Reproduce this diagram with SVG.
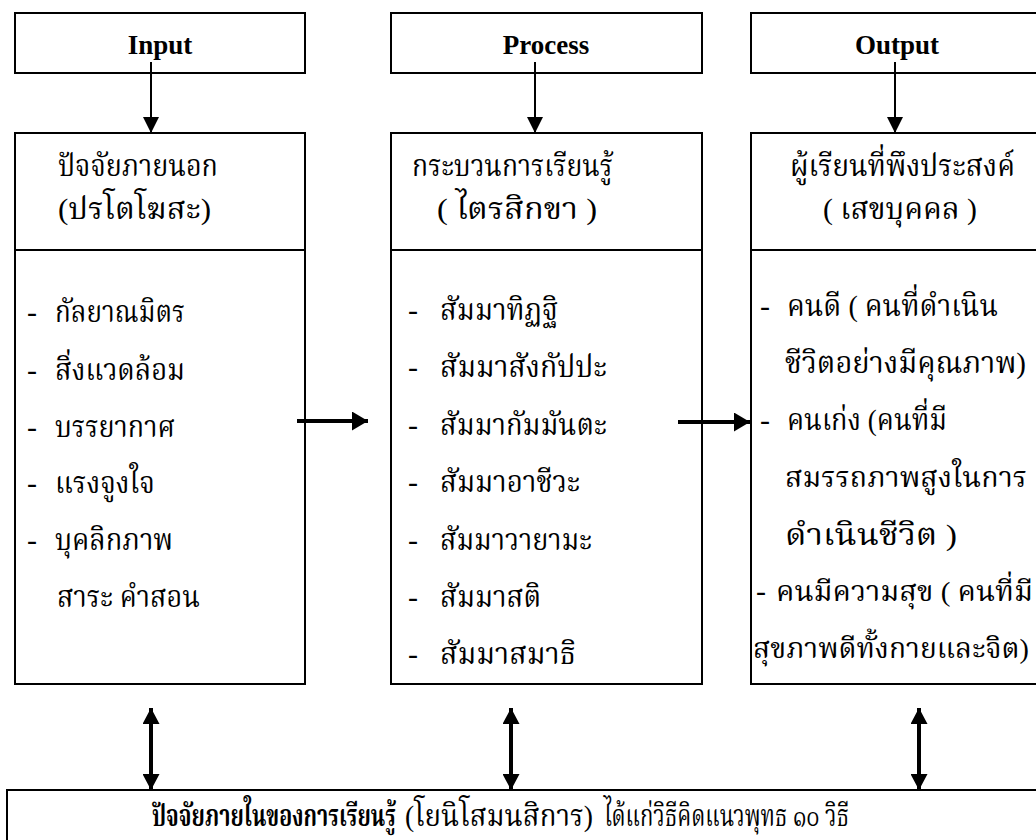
<svg xmlns="http://www.w3.org/2000/svg" width="1036" height="840" viewBox="0 0 1036 840">
<style>
.box{fill:#fff;stroke:#000;stroke-width:2}
.div{stroke:#000;stroke-width:2}
.hdr{font-family:"Liberation Serif","Times New Roman",serif;font-weight:bold;font-size:27px;text-anchor:middle;fill:#000}
.th{font-family:"Liberation Serif","Noto Serif Thai","Noto Sans Thai","DejaVu Serif",serif;font-size:30px;fill:#000}
.sm{font-size:28px}
.b{font-weight:bold}
.thin{stroke:#000;stroke-width:2;fill:none}
.thick{stroke:#000;stroke-width:4;fill:none}
.dbl{stroke:#000;stroke-width:4;fill:none}
</style>
<defs>
<marker id="ah" viewBox="0 0 16 16" refX="16" refY="8" markerWidth="16" markerHeight="16" markerUnits="userSpaceOnUse" orient="auto"><path d="M0,0 L16,8 L0,16 Z" fill="#000"/></marker>
<marker id="ahb" viewBox="0 0 16 19" refX="16" refY="9.5" markerWidth="16" markerHeight="19" markerUnits="userSpaceOnUse" orient="auto"><path d="M0,0 L16,9.5 L0,19 Z" fill="#000"/></marker>
<marker id="ahd" viewBox="0 0 16 17" refX="16" refY="8.5" markerWidth="16" markerHeight="17" markerUnits="userSpaceOnUse" orient="auto-start-reverse"><path d="M0,0 L16,8.5 L0,17 Z" fill="#000"/></marker>
</defs>
<rect width="1036" height="840" fill="#fff"/>

<g id="input-header"><rect class="box" x="15" y="13" width="290" height="60"/><text class="hdr" x="160" y="54">Input</text></g>
<g id="process-header"><rect class="box" x="391" y="13" width="311" height="60"/><text class="hdr" x="546" y="54">Process</text></g>
<g id="output-header"><rect class="box" x="751" y="13" width="293" height="60"/><text class="hdr" x="897" y="54">Output</text></g>

<g id="input-box">
<rect class="box" x="15" y="133" width="290" height="551"/>
<line class="div" x1="15" y1="250" x2="305" y2="250"/>
<text class="th" x="58" y="176" textLength="160" lengthAdjust="spacingAndGlyphs">ปัจจัยภายนอก</text>
<text class="th" x="58" y="219" textLength="153" lengthAdjust="spacingAndGlyphs">(ปรโตโฆสะ)</text>
<text class="th" x="27" y="322">-</text><text class="th" x="55" y="322" textLength="130" lengthAdjust="spacingAndGlyphs">กัลยาณมิตร</text>
<text class="th" x="27" y="380">-</text><text class="th" x="55" y="380" textLength="130" lengthAdjust="spacingAndGlyphs">สิ่งแวดล้อม</text>
<text class="th" x="27" y="437">-</text><text class="th" x="55" y="437" textLength="120" lengthAdjust="spacingAndGlyphs">บรรยากาศ</text>
<text class="th" x="27" y="493">-</text><text class="th" x="55" y="493" textLength="100" lengthAdjust="spacingAndGlyphs">แรงจูงใจ</text>
<text class="th" x="27" y="550">-</text><text class="th" x="55" y="550" textLength="118" lengthAdjust="spacingAndGlyphs">บุคลิกภาพ</text>
<text class="th" x="57" y="607" textLength="143" lengthAdjust="spacingAndGlyphs">สาระ คำสอน</text>
</g>

<g id="process-box">
<rect class="box" x="391" y="133" width="311" height="551"/>
<line class="div" x1="391" y1="250" x2="702" y2="250"/>
<text class="th" x="412" y="176" textLength="201" lengthAdjust="spacingAndGlyphs">กระบวนการเรียนรู้</text>
<text class="th" x="437" y="219" textLength="160" lengthAdjust="spacingAndGlyphs">( ไตรสิกขา )</text>
<text class="th" x="408" y="320">-</text><text class="th" x="440" y="320" textLength="118" lengthAdjust="spacingAndGlyphs">สัมมาทิฏฐิ</text>
<text class="th" x="408" y="377">-</text><text class="th" x="440" y="377" textLength="167" lengthAdjust="spacingAndGlyphs">สัมมาสังกัปปะ</text>
<text class="th" x="408" y="435">-</text><text class="th" x="440" y="435" textLength="167" lengthAdjust="spacingAndGlyphs">สัมมากัมมันตะ</text>
<text class="th" x="408" y="492">-</text><text class="th" x="440" y="492" textLength="140" lengthAdjust="spacingAndGlyphs">สัมมาอาชีวะ</text>
<text class="th" x="408" y="550">-</text><text class="th" x="440" y="550" textLength="152" lengthAdjust="spacingAndGlyphs">สัมมาวายามะ</text>
<text class="th" x="408" y="607">-</text><text class="th" x="440" y="607" textLength="101" lengthAdjust="spacingAndGlyphs">สัมมาสติ</text>
<text class="th" x="408" y="664">-</text><text class="th" x="440" y="664" textLength="136" lengthAdjust="spacingAndGlyphs">สัมมาสมาธิ</text>
</g>

<g id="output-box">
<rect class="box" x="751" y="133" width="293" height="551"/>
<line class="div" x1="751" y1="250" x2="1044" y2="250"/>
<text class="th" x="790" y="176" textLength="225" lengthAdjust="spacingAndGlyphs">ผู้เรียนที่พึงประสงค์</text>
<text class="th" x="823" y="219" textLength="154" lengthAdjust="spacingAndGlyphs">( เสขบุคคล )</text>
<text class="th" x="760" y="316">-</text><text class="th" x="787" y="316" textLength="211" lengthAdjust="spacingAndGlyphs">คนดี ( คนที่ดำเนิน</text>
<text class="th" x="785" y="373" textLength="241" lengthAdjust="spacingAndGlyphs">ชีวิตอย่างมีคุณภาพ)</text>
<text class="th" x="760" y="430">-</text><text class="th" x="787" y="430" textLength="160" lengthAdjust="spacingAndGlyphs">คนเก่ง (คนที่มี</text>
<text class="th sm" x="785" y="487" textLength="242" lengthAdjust="spacingAndGlyphs">สมรรถภาพสูงในการ</text>
<text class="th" x="785" y="545" textLength="172" lengthAdjust="spacingAndGlyphs">ดำเนินชีวิต )</text>
<text class="th" x="756" y="601">-</text><text class="th sm" x="776" y="601" textLength="257" lengthAdjust="spacingAndGlyphs">คนมีความสุข ( คนที่มี</text>
<text class="th sm" x="753" y="658" textLength="276" lengthAdjust="spacingAndGlyphs">สุขภาพดีทั้งกายและจิต)</text>
</g>

<g id="bottom-box">
<rect class="box" x="7" y="790" width="1040" height="60"/>
<text class="th" y="826"><tspan class="b" x="152" textLength="244" lengthAdjust="spacingAndGlyphs">ปัจจัยภายในของการเรียนรู้</tspan><tspan x="405" textLength="188" lengthAdjust="spacingAndGlyphs">(โยนิโสมนสิการ)</tspan><tspan x="604" textLength="245" lengthAdjust="spacingAndGlyphs">ได้แก่วิธีคิดแนวพุทธ ๑๐ วิธี</tspan></text>
</g>

<g id="connectors">
<line class="thin" x1="151" y1="62" x2="151" y2="133" marker-end="url(#ah)"/>
<line class="thin" x1="535" y1="62" x2="535" y2="133" marker-end="url(#ah)"/>
<line class="thin" x1="895" y1="62" x2="895" y2="133" marker-end="url(#ah)"/>
<line class="thick" x1="297" y1="421" x2="368" y2="421" marker-end="url(#ahb)"/>
<line class="thick" x1="678" y1="422" x2="750" y2="422" marker-end="url(#ahb)"/>
<line class="dbl" x1="151" y1="708" x2="151" y2="790" marker-start="url(#ahd)" marker-end="url(#ahd)"/>
<line class="dbl" x1="511" y1="708" x2="511" y2="790" marker-start="url(#ahd)" marker-end="url(#ahd)"/>
<line class="dbl" x1="919" y1="708" x2="919" y2="790" marker-start="url(#ahd)" marker-end="url(#ahd)"/>
</g>
</svg>
